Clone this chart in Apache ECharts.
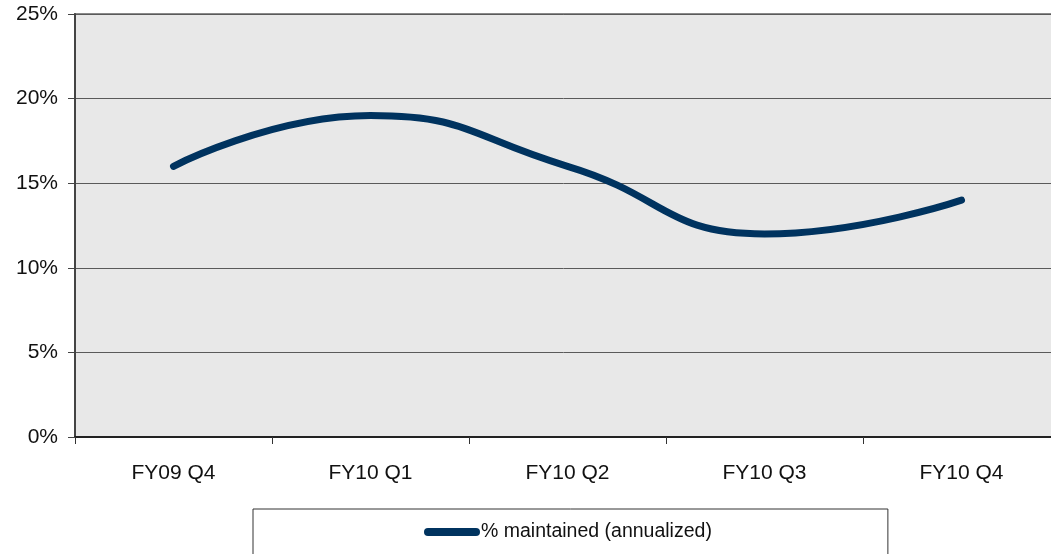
<!DOCTYPE html>
<html>
<head>
<meta charset="utf-8">
<script src="https://cdn.jsdelivr.net/npm/echarts@6/dist/echarts.min.js"></script>
<style>
  html, body { margin: 0; padding: 0; background: #fff; }
  #chart { width: 1051px; height: 554px; }
</style>
</head>
<body>
<div id="chart"></div>
<script>
  const quarters = ['FY09 Q4', 'FY10 Q1', 'FY10 Q2', 'FY10 Q3', 'FY10 Q4'];
  const maintained = [16, 19, 16, 12, 14];
  const seriesName = '% maintained (annualized)';
  const yMin = 0, yMax = 25, yStep = 5;

  var myChart = echarts.init(document.getElementById('chart'));

  const option = {
    backgroundColor: '#ffffff',
    animation: false,
    textStyle: { fontFamily: 'Liberation Sans, Arial, sans-serif' },
    grid: {
      left: 75,
      top: 14,
      width: 985,
      bottom: 117,
      outerBoundsMode: 'none',
      containLabel: false,
      show: true,
      backgroundColor: '#e8e8e8',
      borderColor: '#8a8a8a',
      borderWidth: 2
    },
    legend: {
      data: [{
        name: seriesName,
        icon: 'path://M4,0 L52,0 A4,4 0 0 1 52,8 L4,8 A4,4 0 0 1 4,0 Z'
      }],
      left: 253,
      top: 509,
      itemWidth: 56,
      itemHeight: 8,
      itemGap: 0,
      padding: [13, 176, 30, 171],
      borderColor: '#333',
      borderWidth: 1,
      selectedMode: false,
      textStyle: {
        color: '#111',
        fontSize: 19.5,
        padding: [0, 0, 0, -4]
      }
    },
    xAxis: {
      type: 'category',
      data: quarters,
      boundaryGap: true,
      axisLine: { lineStyle: { color: '#222', width: 2 } },
      axisTick: { show: true, length: 7, lineStyle: { color: '#333' } },
      axisLabel: { color: '#111', fontSize: 21, margin: 26 }
    },
    yAxis: {
      type: 'value',
      min: yMin,
      max: yMax,
      interval: yStep,
      axisLine: { show: true, lineStyle: { color: '#444', width: 2 } },
      axisTick: { show: true, length: 7, lineStyle: { color: '#444' } },
      axisLabel: { color: '#111', fontSize: 21, margin: 17, formatter: '{value}%' },
      splitLine: { lineStyle: { color: '#5a5a5a', width: 1 } }
    },
    series: [{
      name: seriesName,
      type: 'line',
      data: maintained,
      smooth: true,
      showSymbol: false,
      symbol: 'none',
      color: '#00335f',
      lineStyle: { color: '#00335f', width: 7, cap: 'round', join: 'round' }
    }]
  };

  myChart.setOption(option);
</script>
</body>
</html>
